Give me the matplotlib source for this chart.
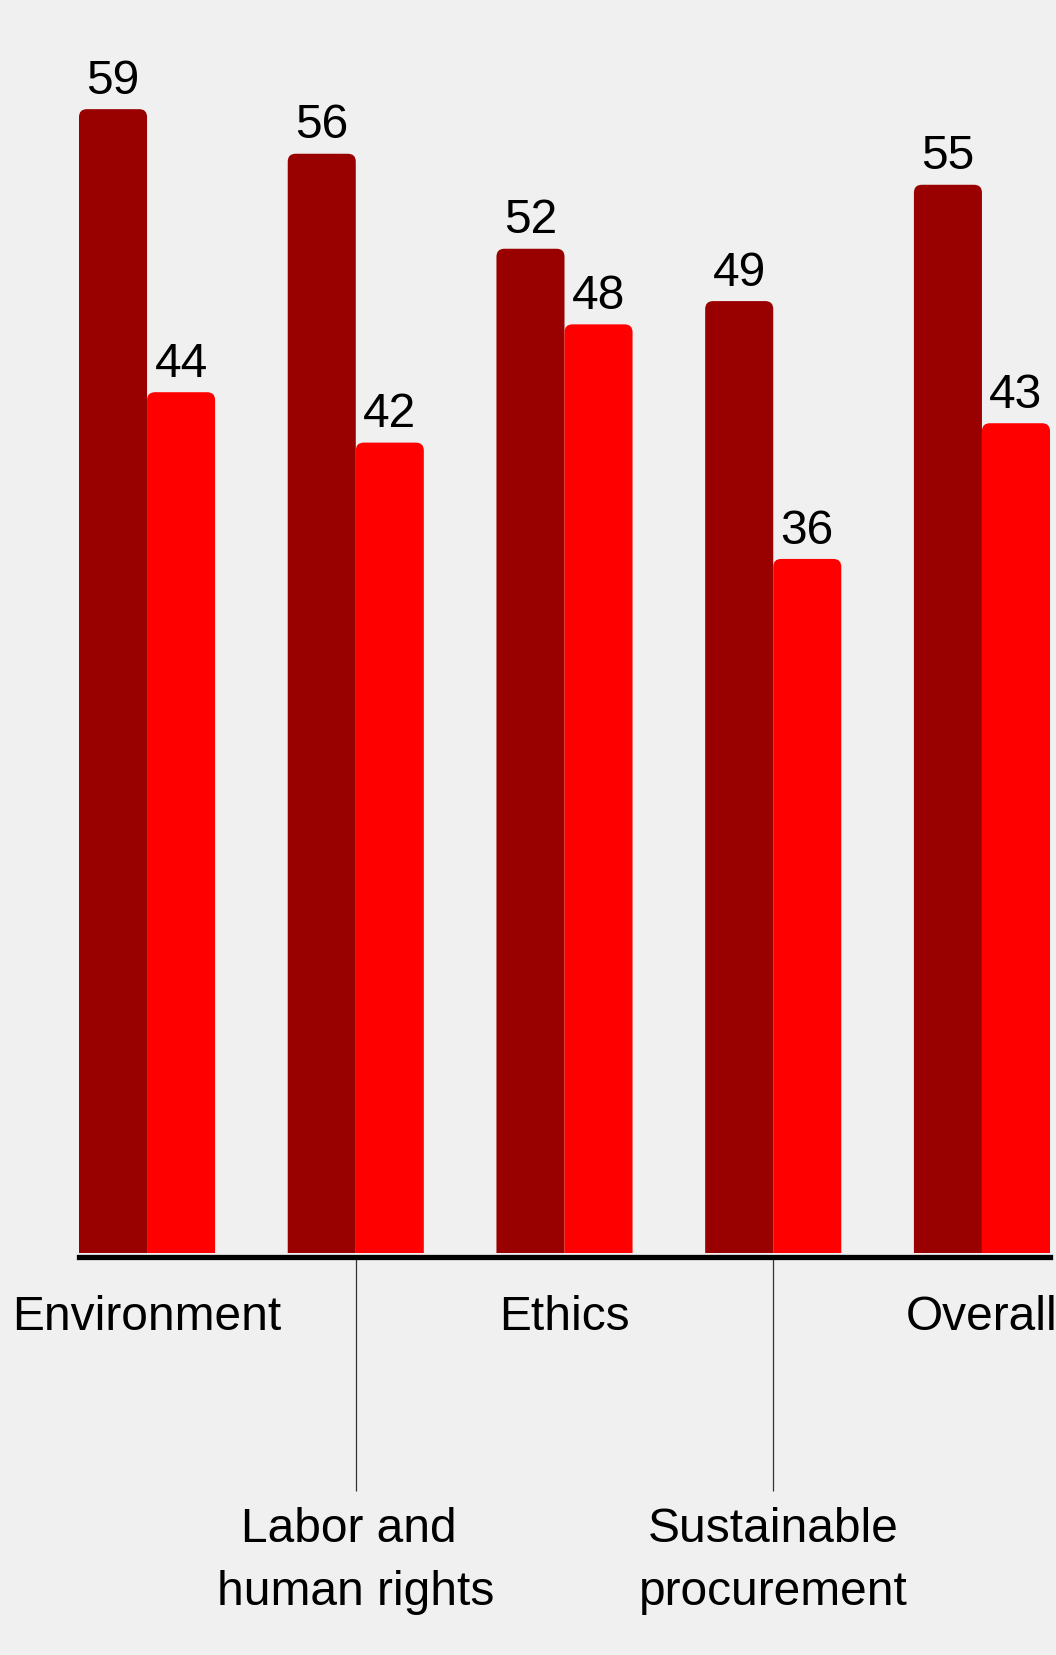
import matplotlib
matplotlib.use("Agg")
import numpy as np
from matplotlib import pyplot as plt
from matplotlib.patches import FancyBboxPatch

plt.rcParams['font.family'] = ['Liberation Sans', 'DejaVu Sans']

categories = ["Environment", "Labor and \nhuman rights", "Ethics", "Sustainable\nprocurement", "Overall"]
series_dark = [59.0, 56.7, 51.8, 49.1, 55.1]
series_red = [44.4, 41.8, 47.9, 35.8, 42.8]
labels_dark = ["59", "56", "52", "49", "55"]
labels_red = ["44", "42", "48", "36", "43"]

bg = "#f0f0f0"
c_dark = "#990000"
c_red = "#ff0000"

fig = plt.figure(figsize=(10.56, 16.55), dpi=100, facecolor=bg)
# axes from x=79 to 1050 px, bars end at y=1253 px
ax = fig.add_axes([79/1056, (1655-1253)/1655, (1050-79)/1056, (1253-51)/1655])
ax.set_facecolor(bg)

x = np.arange(len(categories))
w = 0.326
ax.set_xlim(-w, len(categories) - 1 + w)
ax.set_ylim(0, 62)

# rounded top corners, radius ~8px
r = 0.038
aspect = 10.7
for xs, vals, labs, col in [(x - w, series_dark, labels_dark, c_dark),
                            (x, series_red, labels_red, c_red)]:
    for xi, v, lab in zip(xs, vals, labs):
        p = FancyBboxPatch((xi, -2), w, v + 2, boxstyle=f"round,pad=0,rounding_size={r}",
                           mutation_aspect=aspect, facecolor=col, edgecolor="none", clip_on=True)
        ax.add_patch(p)
        ax.annotate(lab, (xi + w/2, v), xytext=(0, 11), textcoords="offset points",
                    ha="center", va="baseline", fontsize=34.5, color="black")

for s in ["left", "top", "right"]:
    ax.spines[s].set_visible(False)
ax.spines["bottom"].set_linewidth(3.8)
ax.spines["bottom"].set_color("black")
ax.spines["bottom"].set_position(("outward", 3.2))
ax.set_yticks([])

ax.set_xticks(x)
ax.set_xticklabels(categories, fontsize=34.5, linespacing=1.51)
ax.tick_params(axis="x", length=0)
for i, t in enumerate(ax.xaxis.get_major_ticks()):
    t.set_pad(180 if i % 2 == 1 else 27)

# long leader ticks for the lowered labels
x_odd = x[1::2]
ax.vlines(x_odd, -0.198, -0.004, transform=ax.get_xaxis_transform(),
          colors="#333333", linewidth=0.9, clip_on=False)

fig.savefig("out.png", dpi=100, facecolor=bg)
